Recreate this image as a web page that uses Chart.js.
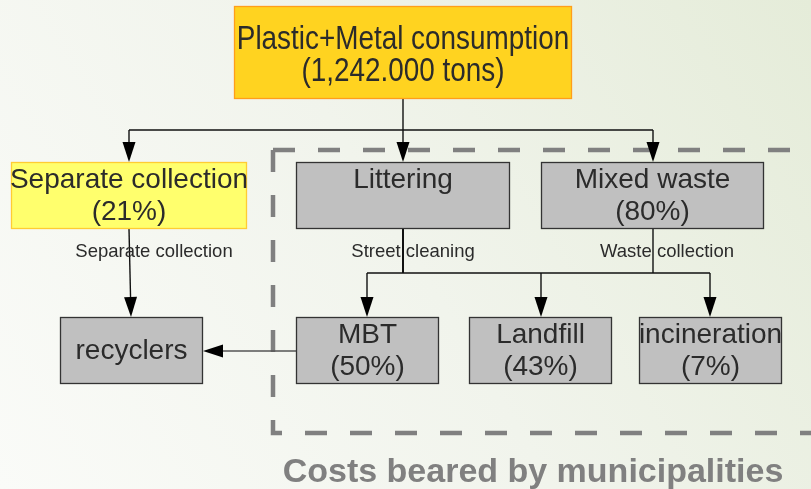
<!DOCTYPE html>
<html>
<head>
<meta charset="utf-8">
<script src="https://cdn.jsdelivr.net/npm/chart.js@4/dist/chart.umd.min.js"></script>
<style>
  html, body { margin: 0; padding: 0; background: #f3f5ef; }
  #flowChart { display: block; }
</style>
</head>
<body>
<canvas id="flowChart" width="811" height="489"></canvas>
<script>
// Data
const nodeNames = ["Plastic+Metal consumption", "Separate collection", "Littering", "Mixed waste", "recyclers", "MBT", "Landfill", "incineration"];
const consumptionTons = "1,242.000";
const nodeShares = [null, 21, null, 80, null, 50, 43, 7];
const flowLabels = ["Separate collection", "Street cleaning", "Waste collection"];
const caption = "Costs beared by municipalities";

// Layout (in chart units, scales map 0..811 / 0..489)
const boxes = [
  [234, 6, 572, 99], [11, 162, 247, 229], [296, 162, 510, 229], [541, 162, 764, 229],
  [60, 317, 203, 384], [296, 317, 439, 384], [469, 317, 612, 384], [639, 317, 782, 384],
];
const boxStyle = [
  { fill: "#ffd320", stroke: "#ff9e1a", font: "34px 'Liberation Sans', Arial, sans-serif", squeeze: 0.82, dy: 2 },
  { fill: "#ffff6d", stroke: "#ffcc33", font: "28px 'Liberation Sans', Arial, sans-serif" },
];
const grayStyle = { fill: "#c0c0c0", stroke: "#333333", font: "28px 'Liberation Sans', Arial, sans-serif" };
const edges = [
  { pts: [[403, 99], [403, 130]] },
  { pts: [[129, 130], [653, 130]] },
  { pts: [[129, 130], [129, 162]], arrow: true },
  { pts: [[403, 130], [403, 162]], arrow: true },
  { pts: [[653, 130], [653, 162]], arrow: true },
  { pts: [[129, 229], [131, 317]], arrow: true },
  { pts: [[403, 229], [403, 273]], width: 2 },
  { pts: [[653, 229], [653, 273]] },
  { pts: [[367, 273], [710, 273]] },
  { pts: [[367, 273], [367, 317]], arrow: true },
  { pts: [[541, 273], [541, 317]], arrow: true },
  { pts: [[710, 273], [710, 317]], arrow: true },
  { pts: [[296, 351], [203, 351]], arrow: true, color: "#555555" },
];
const flowLabelPos = [[154, 252], [413, 252], [667, 252]];

function drawText(ctx, text, x, y, squeeze) {
  ctx.save();
  ctx.translate(x, y);
  ctx.scale(squeeze || 1, 1);
  ctx.fillText(text, 0, 0);
  ctx.restore();
}

const flowPlugin = {
  id: "flow",
  beforeDraw(chart) {
    const ctx = chart.ctx;
    const g = ctx.createLinearGradient(0, chart.height, chart.width, 0);
    g.addColorStop(0, "#fafbf8");
    g.addColorStop(0.5, "#f1f4ec");
    g.addColorStop(1, "#e5ecd9");
    ctx.save();
    ctx.fillStyle = g;
    ctx.fillRect(0, 0, chart.width, chart.height);
    ctx.restore();
  },
  afterDatasetsDraw(chart) {
    const ctx = chart.ctx;
    const sx = chart.scales.x, sy = chart.scales.y;
    const px = v => sx.getPixelForValue(v);
    const py = v => sy.getPixelForValue(v);
    ctx.save();

    // dashed region
    ctx.strokeStyle = "#808080";
    ctx.lineWidth = 4.5;
    ctx.setLineDash([22, 23]);
    ctx.beginPath();
    ctx.moveTo(px(273), py(150));
    ctx.lineTo(px(840), py(150));
    ctx.moveTo(px(273), py(150));
    ctx.lineTo(px(273), py(433));
    ctx.lineTo(px(840), py(433));
    ctx.stroke();
    ctx.setLineDash([]);

    // edges
    edges.forEach(e => {
      ctx.strokeStyle = e.color || "#111111";
      ctx.lineWidth = e.width || 1.4;
      const p = e.pts.map(q => [px(q[0]), py(q[1])]);
      const n = p.length;
      const end = p[n - 1];
      const prev = p[n - 2];
      const dx = end[0] - prev[0], dy = end[1] - prev[1];
      const len = Math.hypot(dx, dy), ux = dx / len, uy = dy / len;
      ctx.beginPath();
      ctx.moveTo(p[0][0], p[0][1]);
      for (let i = 1; i < n - 1; i++) ctx.lineTo(p[i][0], p[i][1]);
      if (e.arrow) ctx.lineTo(end[0] - ux * 18, end[1] - uy * 18);
      else ctx.lineTo(end[0], end[1]);
      ctx.stroke();
      if (e.arrow) {
        ctx.fillStyle = "#000000";
        ctx.beginPath();
        ctx.moveTo(end[0], end[1]);
        ctx.lineTo(end[0] - ux * 20 - uy * 6.5, end[1] - uy * 20 + ux * 6.5);
        ctx.lineTo(end[0] - ux * 20 + uy * 6.5, end[1] - uy * 20 - ux * 6.5);
        ctx.closePath();
        ctx.fill();
      }
    });

    // boxes
    ctx.textAlign = "center";
    ctx.textBaseline = "middle";
    boxes.forEach((b, i) => {
      const st = boxStyle[i] || grayStyle;
      const x0 = px(b[0]), y0 = py(b[1]), x1 = px(b[2]), y1 = py(b[3]);
      ctx.fillStyle = st.fill;
      ctx.fillRect(x0, y0, x1 - x0, y1 - y0);
      ctx.strokeStyle = st.stroke;
      ctx.lineWidth = 1.3;
      ctx.strokeRect(x0 + 0.5, y0 + 0.5, x1 - x0 - 1, y1 - y0 - 1);
      ctx.fillStyle = "#2b2b2b";
      ctx.font = st.font;
      const cx = (x0 + x1) / 2, cy = (y0 + y1) / 2 + (st.dy || 0);
      let second = null;
      if (i === 0) second = "(" + consumptionTons + " tons)";
      else if (nodeShares[i] !== null) second = "(" + nodeShares[i] + "%)";
      if (i === 4) {
        drawText(ctx, nodeNames[i], cx, cy + 1);
      } else {
        drawText(ctx, nodeNames[i], cx, cy - 15, st.squeeze);
        if (second) drawText(ctx, second, cx, cy + 17, st.squeeze);
      }
    });

    // flow labels
    ctx.font = "18.5px 'Liberation Sans', Arial, sans-serif";
    ctx.fillStyle = "#2b2b2b";
    flowLabels.forEach((t, i) => {
      ctx.fillText(t, px(flowLabelPos[i][0]), py(flowLabelPos[i][1]));
    });

    // caption
    ctx.font = "bold 34px 'Liberation Sans', Arial, sans-serif";
    ctx.fillStyle = "#808080";
    ctx.textBaseline = "alphabetic";
    ctx.fillText(caption, px(533), py(482));
    ctx.restore();
  },
};

const flowChart = new Chart(document.getElementById("flowChart"), {
  type: "scatter",
  data: { datasets: [{ data: [], pointRadius: 0 }] },
  options: {
    responsive: false,
    animation: false,
    layout: { padding: 0 },
    plugins: { legend: { display: false }, tooltip: { enabled: false } },
    scales: {
      x: { type: "linear", min: 0, max: 811, display: false },
      y: { type: "linear", min: 0, max: 489, reverse: true, display: false },
    },
  },
  plugins: [flowPlugin],
});
</script>
</body>
</html>
